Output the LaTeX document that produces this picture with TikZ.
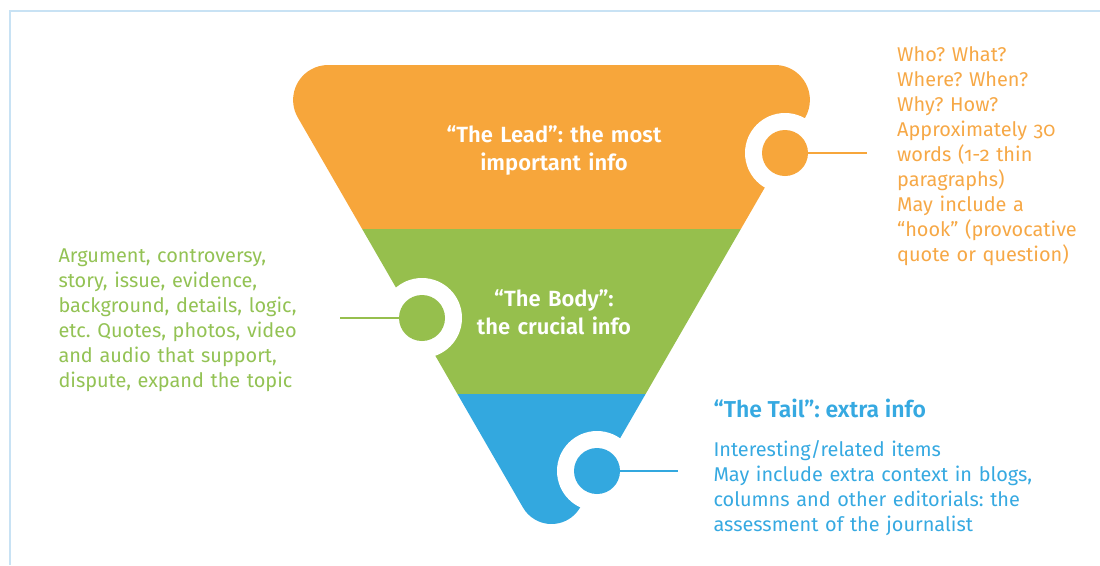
\documentclass[tikz,border=0pt]{standalone}
\usepackage{fontspec}
\setmainfont{Fira Sans}[UprightFont=*, BoldFont=* SemiBold, Numbers=OldStyle]
\frenchspacing
\definecolor{leadcol}{HTML}{F7A63B}
\definecolor{bodycol}{HTML}{96BF4D}
\definecolor{tailcol}{HTML}{33A8DF}
\definecolor{leadtxt}{HTML}{F6A846}
\definecolor{bodytxt}{HTML}{93C254}
\definecolor{tailtxt}{HTML}{36A9E1}
\definecolor{framecol}{HTML}{C8E2F4}
\tikzset{
  x=1pt, y=1pt,
  ring/.style={circle, fill=white, minimum size=80pt, inner sep=0pt},
  dotnode/.style={circle, minimum size=46pt, inner sep=0pt},
  link/.style={line width=2pt},
  sidetext/.style={anchor=base west, inner sep=0pt, align=left, text width=450pt,
    font=\fontsize{19.9}{25}\selectfont},
  headtext/.style={anchor=base, inner sep=0pt, align=center, text width=300pt,
    text=white, font=\bfseries\fontsize{22}{28}\selectfont},
}
\begin{document}
\begin{tikzpicture}
\useasboundingbox (0,0) rectangle (1100,-565);
\draw[framecol, line width=1.3pt] (10,-565) -- (10,-11) -- (1100,-11);
% funnel
\begin{scope}
\clip (328.1,-65) -- (774.9,-65) arc[start angle=90,end angle=-30,radius=35]
  -- (580.1,-507.5) arc[start angle=-30,end angle=-150,radius=33]
  -- (297.8,-117.5) arc[start angle=210,end angle=90,radius=35] -- cycle;
\fill[leadcol] (250,-50) rectangle (850,-229);
\fill[bodycol] (250,-229) rectangle (850,-394);
\fill[tailcol] (250,-394) rectangle (850,-570);
\end{scope}
% headings
\node[headtext] (leadhead) at (554,-142) {“The Lead”: the most\\important info};
\node[headtext] (bodyhead) at (554,-306) {“The Body”:\\the crucial info};
% rings and dots
\node[ring] (leadring) at (785,-153) {};
\node[dotnode, fill=leadcol] (leaddot) at (785,-153) {};
\node[ring] (bodyring) at (422,-318) {};
\node[dotnode, fill=bodycol] (bodydot) at (422,-318) {};
\node[ring] (tailring) at (597,-471) {};
\node[dotnode, fill=tailcol] (taildot) at (597,-471) {};
% connectors
\coordinate (leadend) at (867,-153);
\coordinate (bodyend) at (340,-318);
\coordinate (tailend) at (678,-471);
\draw[link, leadcol] (leaddot.east) -- (leadend);
\draw[link, bodycol] (bodydot.west) -- (bodyend);
\draw[link, tailcol] (taildot.east) -- (tailend);
% side texts
\node[sidetext, text=leadtxt] (leadtext) at (897,-61.7) {Who? What?\\Where? When?\\Why? How?\\Approximately 30\\words (1-2 thin\\paragraphs)\\May include a\\“hook” (provocative\\quote or question)};
\node[sidetext, text=bodytxt] (bodytext) at (58.3,-262.3) {Argument, controversy,\\story, issue, evidence,\\background, details, logic,\\etc. Quotes, photos, video\\and audio that support,\\dispute, expand the topic};
\node[anchor=base west, inner sep=0pt, text=tailtxt, font=\bfseries\fontsize{23}{26}\selectfont] (tailhead) at (713.3,-417.7) {“The Tail”: extra info};
\node[sidetext, text=tailtxt] (tailtext) at (713.3,-456.7) {Interesting/related items\\May include extra context in blogs,\\columns and other editorials: the\\assessment of the journalist};
\end{tikzpicture}
\end{document}
